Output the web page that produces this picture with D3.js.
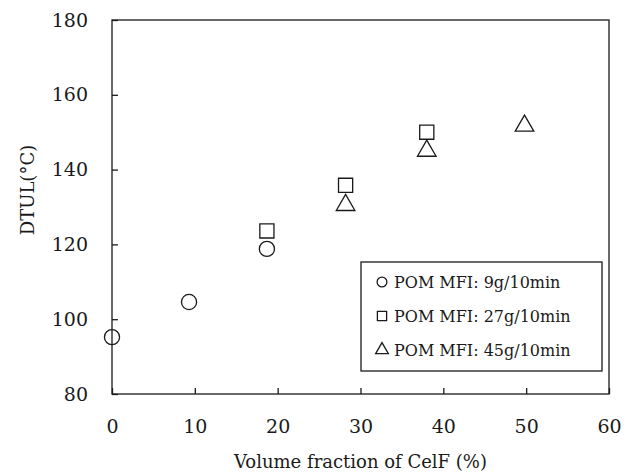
<!DOCTYPE html>
<html lang="en">
<head>
    <meta charset="UTF-8">
    <title>DTUL vs Volume fraction of CelF</title>
    <script src="https://d3js.org/d3.v7.min.js"></script>
    <style>
        body { margin: 0; background: #fff; }
        text { font-family: "DejaVu Serif", "Liberation Serif", serif; fill: #1a1a1a; }
        .marker { fill: none; stroke: #1a1a1a; stroke-width: 1.3px; }
        .axis path, .axis line { stroke: #1a1a1a; stroke-width: 1.3px; }
    </style>
</head>
<body>
    <svg width="628" height="476"></svg>
    <script>
        // series values
        const pom9x  = [0, 9.3, 18.7];
        const pom9y  = [95.2, 104.6, 118.8];
        const pom27x = [18.7, 28.2, 38.0];
        const pom27y = [123.6, 135.8, 150.0];
        const pom45x = [28.2, 38.0, 49.8];
        const pom45y = [130.5, 145.0, 151.7];

        const seriesNames = ["POM MFI: 9g/10min", "POM MFI: 27g/10min", "POM MFI: 45g/10min"];
        const xTicks = [0, 10, 20, 30, 40, 50, 60];
        const yTicks = [80, 100, 120, 140, 160, 180];

        const svg = d3.select("svg"),
            margin = { top: 20, right: 19, bottom: 82, left: 112 },
            width = +svg.attr("width") - margin.left - margin.right,
            height = +svg.attr("height") - margin.top - margin.bottom,
            g = svg.append("g").attr("transform", "translate(" + margin.left + "," + margin.top + ")");

        const x = d3.scaleLinear().domain([0, 60]).range([0, width]);
        const y = d3.scaleLinear().domain([80, 180]).range([height, 0]);

        // frame
        g.append("rect")
            .attr("width", width)
            .attr("height", height)
            .attr("fill", "none")
            .attr("stroke", "#1a1a1a")
            .attr("stroke-width", 1.3);

        // axes with inward ticks
        const xAxis = g.append("g")
            .attr("class", "axis")
            .attr("transform", "translate(0," + height + ")")
            .call(d3.axisBottom(x).tickValues(xTicks).tickSizeInner(-6).tickSizeOuter(0).tickPadding(26));
        xAxis.select(".domain").remove();
        xAxis.selectAll("text").style("font-size", "19px").attr("fill", "#1a1a1a");

        const yAxis = g.append("g")
            .attr("class", "axis")
            .call(d3.axisLeft(y).tickValues(yTicks).tickSizeInner(-6).tickSizeOuter(0).tickPadding(24));
        yAxis.select(".domain").remove();
        yAxis.selectAll("text").style("font-size", "19px").attr("fill", "#1a1a1a");

        // symbols
        const circle = d3.symbol().type(d3.symbolCircle);
        const square = d3.symbol().type(d3.symbolSquare);
        const triangle = d3.symbol().type(d3.symbolTriangle);

        function plot(xs, ys, sym, size) {
            g.selectAll(null)
                .data(xs.map((v, i) => [v, ys[i]]))
                .enter().append("path")
                .attr("class", "marker")
                .attr("transform", d => "translate(" + x(d[0]) + "," + y(d[1]) + ")")
                .attr("d", sym.size(size)());
        }
        plot(pom9x, pom9y, circle, 180);
        plot(pom27x, pom27y, square, 200);
        plot(pom45x, pom45y, triangle, 150);

        // axis titles
        svg.append("text")
            .attr("x", margin.left + width / 2)
            .attr("y", 468)
            .attr("text-anchor", "middle")
            .style("font-size", "18px")
            .text("Volume fraction of CelF (%)");

        svg.append("text")
            .attr("transform", "translate(34,190) rotate(-90)")
            .attr("text-anchor", "middle")
            .style("font-size", "18px")
            .text("DTUL(\u00B0C)");

        // legend
        const legend = svg.append("g").attr("transform", "translate(361,262)");
        legend.append("rect")
            .attr("width", 241)
            .attr("height", 109)
            .attr("fill", "#fff")
            .attr("stroke", "#1a1a1a")
            .attr("stroke-width", 1.3);
        const legSyms = [circle.size(75), square.size(85), triangle.size(70)];
        seriesNames.forEach((name, i) => {
            const cy = 20 + i * 34;
            legend.append("path")
                .attr("class", "marker")
                .attr("transform", "translate(21," + cy + ")")
                .attr("d", legSyms[i]());
            legend.append("text")
                .attr("x", 33)
                .attr("y", cy + 6)
                .style("font-size", "16px")
                .text(name);
        });
    </script>
</body>
</html>
